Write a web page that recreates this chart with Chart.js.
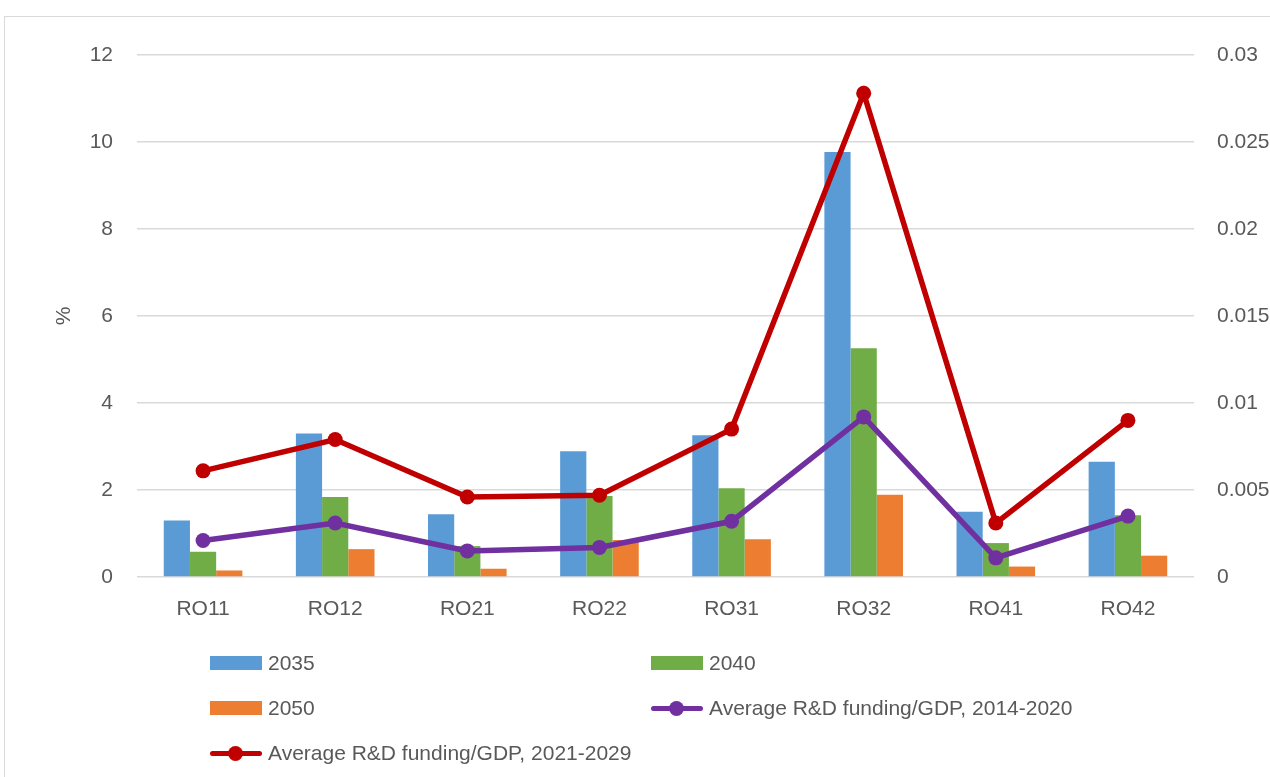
<!DOCTYPE html>
<html>
<head>
<meta charset="utf-8">
<script src="https://cdn.jsdelivr.net/npm/chart.js@4"></script>
<style>
    html, body { margin: 0; padding: 0; background: #fff; }
    body { width: 1270px; height: 777px; position: relative; overflow: hidden; font-family: "Liberation Sans", Arial, sans-serif; }
    #wrap { position: absolute; left: 0; top: 0; width: 1270px; height: 777px; }
    #frame { position: absolute; left: 4px; top: 16px; width: 1300px; height: 800px; border: 1px solid #d9d9d9; pointer-events: none; }
    #legend { position: absolute; left: 0; top: 0; width: 1270px; height: 777px; pointer-events: none; }
    .item { position: absolute; height: 30px; display: flex; align-items: center; font-size: 21px; color: #595959; white-space: nowrap; }
    .box { width: 52px; height: 14px; margin-right: 6px; }
    .line { width: 52px; height: 15px; margin-right: 6px; position: relative; }
    .line .bar { position: absolute; left: 0; right: 0; top: 5px; height: 5px; border-radius: 3px; }
    .line .dot { position: absolute; left: 18px; top: 0; width: 15px; height: 15px; border-radius: 50%; }
</style>
</head>
<body>
<div id="frame"></div>
<div id="wrap"><canvas id="chart" width="1270" height="777"></canvas></div>
<div id="legend"></div>
<script>
// Data
const regions = ['RO11', 'RO12', 'RO21', 'RO22', 'RO31', 'RO32', 'RO41', 'RO42'];
const values2035 = [1.30, 3.30, 1.44, 2.89, 3.26, 9.77, 1.50, 2.65];
const values2040 = [0.58, 1.84, 0.71, 1.86, 2.04, 5.26, 0.78, 1.42];
const values2050 = [0.15, 0.64, 0.19, 0.85, 0.87, 1.89, 0.24, 0.49];
const rdFunding2014 = [0.0021, 0.0031, 0.0015, 0.0017, 0.0032, 0.0092, 0.0011, 0.0035];
const rdFunding2021 = [0.0061, 0.0079, 0.0046, 0.0047, 0.0085, 0.0278, 0.0031, 0.0090];
const leftTickLabels = ['0', '2', '4', '6', '8', '10', '12'];
const rightTickLabels = ['0', '0.005', '0.01', '0.015', '0.02', '0.025', '0.03'];

const textColor = '#595959';
const gridColor = '#d9d9d9';
const font = { family: '"Liberation Sans", Arial, sans-serif', size: 21 };

const ctx = document.getElementById('chart').getContext('2d');
const chart = new Chart(ctx, {
    data: {
        labels: regions,
        datasets: [
            {
                type: 'bar',
                label: '2035',
                data: values2035,
                backgroundColor: '#5B9BD5',
                yAxisID: 'y',
                order: 2
            },
            {
                type: 'bar',
                label: '2040',
                data: values2040,
                backgroundColor: '#70AD47',
                yAxisID: 'y',
                order: 2
            },
            {
                type: 'bar',
                label: '2050',
                data: values2050,
                backgroundColor: '#ED7D31',
                yAxisID: 'y',
                order: 2
            },
            {
                type: 'line',
                label: 'Average R&D funding/GDP, 2014-2020',
                data: rdFunding2014,
                borderColor: '#7030A0',
                backgroundColor: '#7030A0',
                borderWidth: 5.5,
                pointRadius: 7.5,
                pointBorderWidth: 0,
                tension: 0,
                yAxisID: 'y1',
                order: 1
            },
            {
                type: 'line',
                label: 'Average R&D funding/GDP, 2021-2029',
                data: rdFunding2021,
                borderColor: '#C00000',
                backgroundColor: '#C00000',
                borderWidth: 5.5,
                pointRadius: 7.5,
                pointBorderWidth: 0,
                tension: 0,
                yAxisID: 'y1',
                order: 0
            }
        ]
    },
    options: {
        responsive: false,
        animation: false,
        layout: { padding: { top: 55, left: 0, right: 0, bottom: 0 } },
        datasets: {
            bar: { categoryPercentage: 0.595, barPercentage: 1 }
        },
        plugins: {
            legend: { display: false },
            tooltip: { enabled: false }
        },
        scales: {
            x: {
                grid: { display: false, drawTicks: false },
                border: { display: false },
                ticks: { color: textColor, font: font, padding: 20 },
                afterFit: function(scale) { scale.height = 200; }
            },
            y: {
                position: 'left',
                min: 0,
                max: 12,
                grid: { color: gridColor, lineWidth: 1.5, drawTicks: false },
                border: { display: false },
                ticks: {
                    stepSize: 2,
                    color: textColor,
                    font: font,
                    padding: 24,
                    callback: function(value, index) { return leftTickLabels[index]; }
                },
                title: {
                    display: true,
                    text: '%',
                    color: textColor,
                    font: font,
                    padding: { top: 52 }
                },
                afterFit: function(scale) { scale.width = 137; }
            },
            y1: {
                position: 'right',
                min: 0,
                max: 0.03,
                grid: { display: false, drawTicks: false },
                border: { display: false },
                ticks: {
                    stepSize: 0.005,
                    color: textColor,
                    font: font,
                    padding: 23,
                    callback: function(value, index) { return rightTickLabels[index]; }
                },
                afterFit: function(scale) { scale.width = 76; }
            }
        }
    }
});

// Legend in two columns, built from the datasets
const legend = document.getElementById('legend');
const slots = [[210, 663], [651, 663], [210, 708], [651, 708], [210, 753]];
chart.data.datasets.forEach(function(ds, i) {
    const item = document.createElement('div');
    item.className = 'item';
    item.style.left = slots[i][0] + 'px';
    item.style.top = (slots[i][1] - 15) + 'px';
    let marker;
    if (ds.type === 'bar') {
        marker = '<div class="box" style="background:' + ds.backgroundColor + '"></div>';
    } else {
        marker = '<div class="line"><div class="bar" style="background:' + ds.borderColor + '"></div>' +
                 '<div class="dot" style="background:' + ds.borderColor + '"></div></div>';
    }
    item.innerHTML = marker + '<span></span>';
    item.querySelector('span').textContent = ds.label;
    legend.appendChild(item);
});
</script>
</body>
</html>
